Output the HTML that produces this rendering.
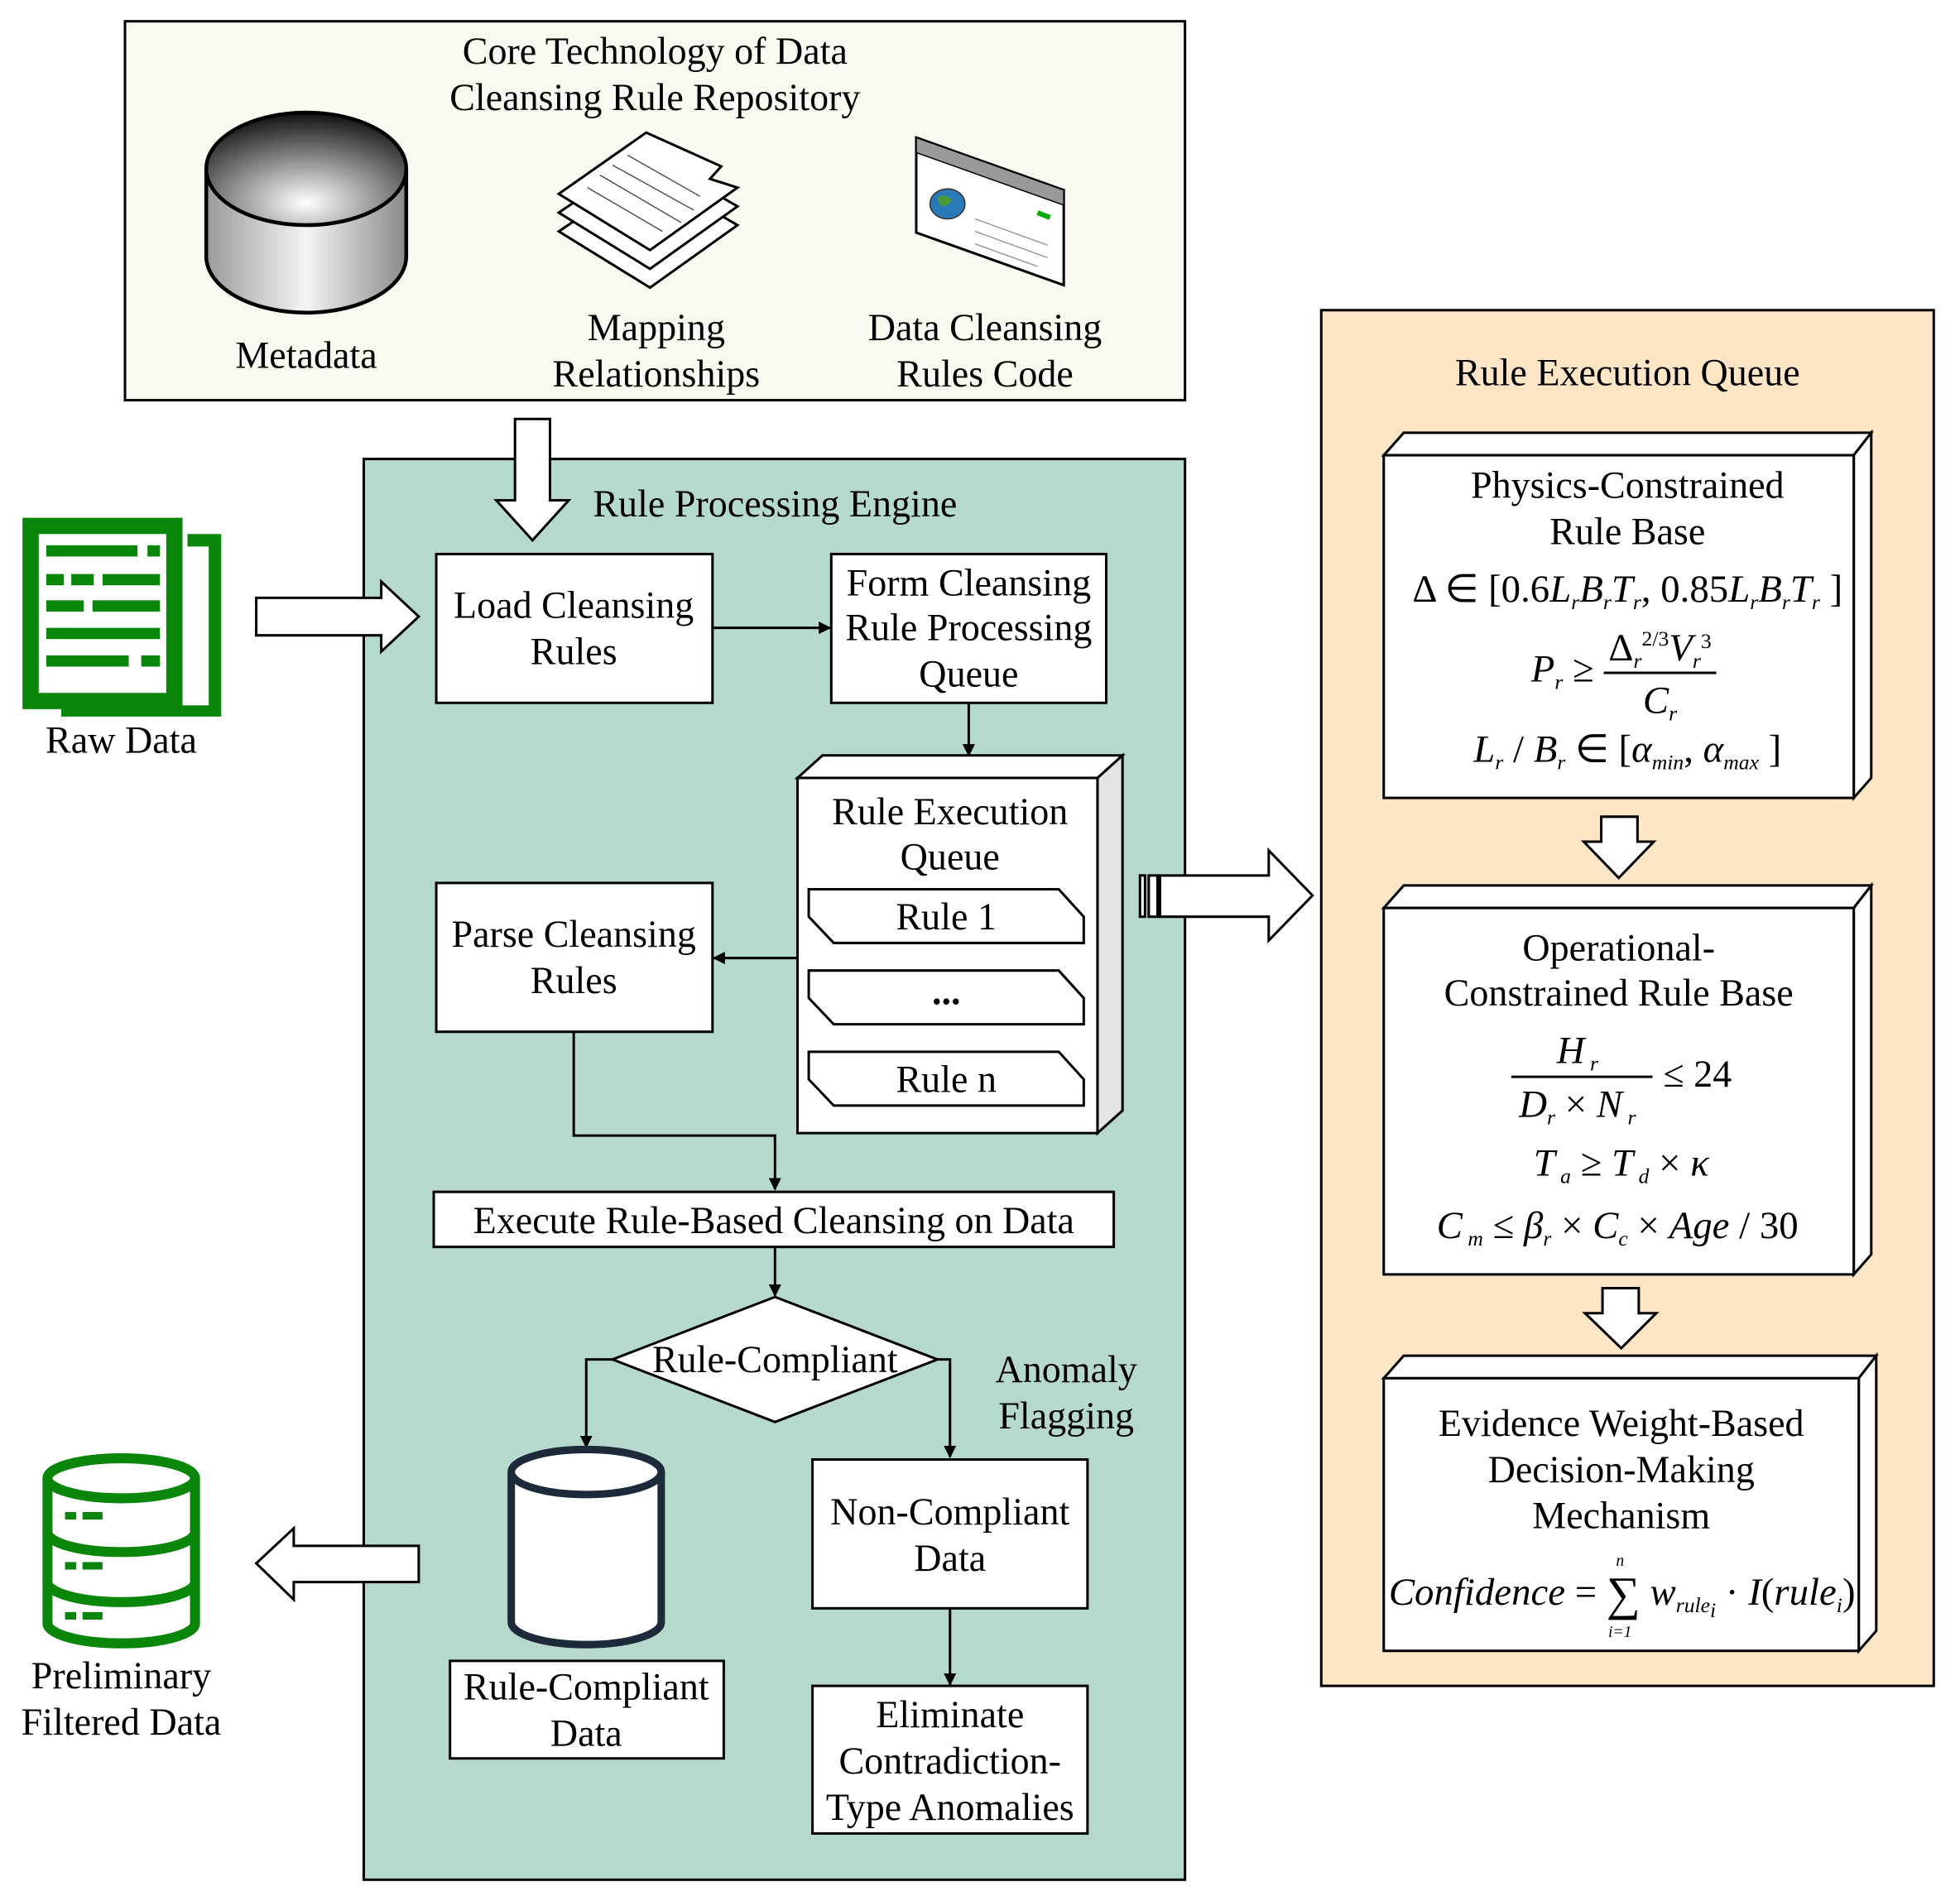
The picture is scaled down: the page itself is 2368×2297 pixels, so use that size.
<!DOCTYPE html>
<html><head><meta charset="utf-8"><style>
html,body{margin:0;padding:0;background:#fff}
svg{display:block}
.t{font-family:"Liberation Serif",serif;font-size:30.5px;text-anchor:middle;fill:#000}
.m{font-family:"Liberation Serif",serif;font-size:31px;font-style:italic;text-anchor:middle;fill:#000}
.s{font-size:17px}
.b{fill:#fff;stroke:#000;stroke-width:2}
.l{fill:none;stroke:#000;stroke-width:2}
</style></head><body>
<svg width="2368" height="2297" viewBox="0 0 1568 1520" preserveAspectRatio="none" xmlns="http://www.w3.org/2000/svg">
<defs>
<marker id="a" markerWidth="10" markerHeight="10" refX="9" refY="5" orient="auto" markerUnits="userSpaceOnUse"><path d="M0,0 L10,5 L0,10 z" fill="#000"/></marker>
<linearGradient id="cyl" x1="0" x2="1" y1="0" y2="0"><stop offset="0" stop-color="#9a9a9a"/><stop offset="0.5" stop-color="#f4f4f4"/><stop offset="1" stop-color="#8a8a8a"/></linearGradient>
<radialGradient id="ctop" cx="0.5" cy="0.8" r="0.8"><stop offset="0" stop-color="#ffffff"/><stop offset="1" stop-color="#111"/></radialGradient>
</defs>

<rect x="100" y="17" width="848" height="303" fill="#fbf8f1" stroke="#000" stroke-width="2"/>
<text class="t" x="524" y="51">Core Technology of Data</text>
<text class="t" x="524" y="88">Cleansing Rule Repository</text>
<path d="M165,135 V205 A80,45 0 0 0 325,205 V135" fill="url(#cyl)" stroke="#000" stroke-width="3"/>
<ellipse cx="245" cy="135" rx="80" ry="45" fill="url(#ctop)" stroke="#000" stroke-width="3"/>
<text class="t" x="245" y="294">Metadata</text>
<g stroke="#000" stroke-width="2" fill="#fff">
<path d="M447,185 L517,138 L590,180 L520,230 Z"/>
<path d="M447,170 L517,123 L590,165 L520,215 Z"/>
<path d="M447,155 L517,106 L577,133 L568,143 L590,150 L520,200 Z"/>
</g>
<g stroke="#555" stroke-width="1"><line x1="470" y1="150" x2="530" y2="185"/><line x1="480" y1="140" x2="545" y2="178"/><line x1="490" y1="132" x2="555" y2="168"/><line x1="502" y1="124" x2="560" y2="157"/></g>
<text class="t" x="525" y="272">Mapping</text>
<text class="t" x="525" y="309">Relationships</text>
<path d="M733,110 L851,152 L851,228 L733,186 Z" fill="#fff" stroke="#000" stroke-width="2"/>
<path d="M733,110 L851,152 L851,164 L733,122 Z" fill="#999" stroke="#000" stroke-width="1"/>
<ellipse cx="758" cy="163" rx="14" ry="12" fill="#2a7ab8" stroke="#333"/>
<path d="M750,158 q6,-4 12,2 q-4,6 -10,4 z" fill="#4a9a3a"/>
<line x1="830" y1="170" x2="840" y2="174" stroke="#0a0" stroke-width="4"/>
<g stroke="#999" stroke-width="1"><line x1="780" y1="175" x2="838" y2="196"/><line x1="780" y1="185" x2="838" y2="206"/><line x1="780" y1="195" x2="830" y2="213"/></g>
<text class="t" x="788" y="272">Data Cleansing</text>
<text class="t" x="788" y="309">Rules Code</text>

<rect x="291" y="367" width="657" height="1136" fill="#b6d9ce" stroke="#000" stroke-width="2"/>
<path d="M412,335 H440 V400 H455 L426,432 L397,400 H412 Z" class="b"/>
<text class="t" x="620" y="413">Rule Processing Engine</text>
<rect x="349" y="443" width="221" height="119" class="b"/>
<text class="t" x="459" y="494">Load Cleansing</text>
<text class="t" x="459" y="531">Rules</text>
<rect x="665" y="443" width="220" height="119" class="b"/>
<text class="t" x="775" y="476">Form Cleansing</text>
<text class="t" x="775" y="512">Rule Processing</text>
<text class="t" x="775" y="549">Queue</text>
<line x1="570" y1="502" x2="664" y2="502" class="l" marker-end="url(#a)"/>
<line x1="775" y1="562" x2="775" y2="604" class="l" marker-end="url(#a)"/>
<path d="M638,622 L658,604 L898,604 L878,622 Z" class="b"/>
<path d="M878,622 L898,604 L898,888 L878,906 Z" fill="#e4e4e4" stroke="#000" stroke-width="2"/>
<rect x="638" y="622" width="240" height="284" class="b"/>
<text class="t" x="760" y="659">Rule Execution</text>
<text class="t" x="760" y="695">Queue</text>
<path d="M647,711 L847,711 L867,733 L867,754 L667,754 L647,733 Z" class="b"/>
<text class="t" x="757" y="743">Rule 1</text>
<path d="M647,776 L847,776 L867,798 L867,819 L667,819 L647,798 Z" class="b"/>
<text class="t" x="757" y="803" style="font-weight:bold">...</text>
<path d="M647,841 L847,841 L867,863 L867,884 L667,884 L647,863 Z" class="b"/>
<text class="t" x="757" y="873">Rule n</text>
<rect x="349" y="706" width="221" height="119" class="b"/>
<text class="t" x="459" y="757">Parse Cleansing</text>
<text class="t" x="459" y="794">Rules</text>
<line x1="638" y1="766" x2="571" y2="766" class="l" marker-end="url(#a)"/>
<polyline points="459,825 459,908 620,908 620,951" class="l" marker-end="url(#a)"/>
<rect x="347" y="953" width="544" height="44" class="b"/>
<text class="t" x="619" y="986">Execute Rule-Based Cleansing on Data</text>
<line x1="620" y1="997" x2="620" y2="1036" class="l" marker-end="url(#a)"/>
<path d="M620,1037 L750,1087 L620,1137 L490,1087 Z" class="b"/>
<text class="t" x="620" y="1097">Rule-Compliant</text>
<polyline points="490,1087 469,1087 469,1157" class="l" marker-end="url(#a)"/>
<polyline points="750,1087 760,1087 760,1165" class="l" marker-end="url(#a)"/>
<text class="t" x="853" y="1105">Anomaly</text>
<text class="t" x="853" y="1142">Flagging</text>
<path d="M409,1177 V1297 A60,18 0 0 0 529,1297 V1177" fill="#fff" stroke="#1c2a3a" stroke-width="6"/>
<ellipse cx="469" cy="1177" rx="60" ry="18" fill="#fff" stroke="#1c2a3a" stroke-width="6"/>
<rect x="360" y="1328" width="219" height="78" class="b"/>
<text class="t" x="469" y="1359">Rule-Compliant</text>
<text class="t" x="469" y="1396">Data</text>
<rect x="650" y="1167" width="220" height="119" class="b"/>
<text class="t" x="760" y="1219">Non-Compliant</text>
<text class="t" x="760" y="1256">Data</text>
<line x1="760" y1="1286" x2="760" y2="1347" class="l" marker-end="url(#a)"/>
<rect x="650" y="1348" width="220" height="118" class="b"/>
<text class="t" x="760" y="1381">Eliminate</text>
<text class="t" x="760" y="1418">Contradiction-</text>
<text class="t" x="760" y="1455">Type Anomalies</text>

<g fill="#0a860a">
<path d="M18,414 H146 V567 H18 Z M31,427 V554 H133 V427 Z" fill-rule="evenodd"/>
<path d="M150,427 H177 V573 H49 V561 H61 V564 H167 V437 H150 Z"/>
<rect x="37" y="436" width="73" height="9"/><rect x="118" y="436" width="10" height="9"/>
<rect x="37" y="459" width="14" height="9"/><rect x="57" y="459" width="18" height="9"/><rect x="82" y="459" width="46" height="9"/>
<rect x="37" y="480" width="30" height="9"/><rect x="74" y="480" width="54" height="9"/>
<rect x="37" y="502" width="91" height="9"/>
<rect x="37" y="524" width="66" height="9"/><rect x="113" y="524" width="15" height="9"/>
</g>
<text class="t" x="97" y="602">Raw Data</text>
<path d="M205,478 H305 V465 L335,493 L305,521 V508 H205 Z" class="b"/>
<path d="M335,1236 H235 V1222 L205,1250 L235,1279 V1265 H335 Z" class="b"/>

<g fill="none" stroke="#0a860a" stroke-width="8">
<path d="M38,1182 V1298 A59,16 0 0 0 156,1298 V1182"/>
<ellipse cx="97" cy="1182" rx="59" ry="16"/>
<path d="M38,1225 A59,16 0 0 0 156,1225"/>
<path d="M38,1265 A59,16 0 0 0 156,1265"/>
</g>
<g fill="#0a860a"><rect x="52" y="1209" width="9" height="6"/><rect x="66" y="1209" width="16" height="6"/><rect x="52" y="1249" width="9" height="6"/><rect x="66" y="1249" width="16" height="6"/><rect x="52" y="1289" width="9" height="6"/><rect x="66" y="1289" width="16" height="6"/></g>
<text class="t" x="97" y="1350">Preliminary</text>
<text class="t" x="97" y="1387">Filtered Data</text>

<rect x="912" y="700" width="4" height="33" class="b" stroke-width="1.5"/>
<rect x="919" y="700" width="7" height="33" class="b" stroke-width="1.5"/>
<path d="M928,700 H1015 V680 L1050,716 L1015,752 V733 H928 Z" class="b"/>

<rect x="1057" y="248" width="490" height="1100" fill="#fde5c6" stroke="#000" stroke-width="2"/>
<text class="t" x="1302" y="308">Rule Execution Queue</text>
<g>
<path d="M1107,364 L1123,346 L1497,346 L1483,364 Z" class="b"/>
<path d="M1483,364 L1497,346 L1497,622 L1483,638 Z" class="b"/>
<rect x="1107" y="364" width="376" height="274" class="b"/>
<text class="t" x="1302" y="398">Physics-Constrained</text>
<text class="t" x="1302" y="435">Rule Base</text>
<text class="m" x="1302" y="481"><tspan font-style="normal">Δ ∈ [0.6</tspan>L<tspan class="s" dy="6">r</tspan><tspan dy="-6">B</tspan><tspan class="s" dy="6">r</tspan><tspan dy="-6">T</tspan><tspan class="s" dy="6">r</tspan><tspan dy="-6" font-style="normal">, 0.85</tspan>L<tspan class="s" dy="6">r</tspan><tspan dy="-6">B</tspan><tspan class="s" dy="6">r</tspan><tspan dy="-6">T</tspan><tspan class="s" dy="6">r</tspan><tspan dy="-6" font-style="normal"> ]</tspan></text>
<text class="m" x="1250" y="545">P<tspan class="s" dy="6">r</tspan><tspan dy="-6" font-style="normal"> ≥</tspan></text>
<text class="m" x="1328" y="528"><tspan font-style="normal">Δ</tspan><tspan class="s" dy="6">r</tspan><tspan class="s" dy="-18" font-style="normal">2/3</tspan><tspan dy="12">V</tspan><tspan class="s" dy="6">r</tspan><tspan class="s" dy="-16" font-style="normal">3</tspan></text>
<line x1="1283" y1="538" x2="1373" y2="538" stroke="#000" stroke-width="2"/>
<text class="m" x="1328" y="570">C<tspan class="s" dy="6">r</tspan></text>
<text class="m" x="1302" y="609">L<tspan class="s" dy="6">r</tspan><tspan dy="-6" font-style="normal"> / </tspan>B<tspan class="s" dy="6">r</tspan><tspan dy="-6" font-style="normal"> ∈ [</tspan>α<tspan class="s" dy="6">min</tspan><tspan dy="-6" font-style="normal">, </tspan>α<tspan class="s" dy="6">max</tspan><tspan dy="-6" font-style="normal"> ]</tspan></text>
</g>
<path d="M1281,653 H1310 V673 H1323 L1295,702 L1267,673 H1281 Z" class="b"/>
<g>
<path d="M1107,726 L1123,708 L1497,708 L1483,726 Z" class="b"/>
<path d="M1483,726 L1497,708 L1497,1003 L1483,1019 Z" class="b"/>
<rect x="1107" y="726" width="376" height="293" class="b"/>
<text class="t" x="1295" y="768">Operational-</text>
<text class="t" x="1295" y="804">Constrained Rule Base</text>
<text class="m" x="1262" y="850">H<tspan class="s" dy="6"> r</tspan></text>
<line x1="1209" y1="861" x2="1322" y2="861" stroke="#000" stroke-width="2"/>
<text class="t" x="1358" y="869">≤ 24</text>
<text class="m" x="1262" y="893">D<tspan class="s" dy="6">r</tspan><tspan dy="-6" font-style="normal"> × </tspan>N<tspan class="s" dy="6"> r</tspan></text>
<text class="m" x="1297" y="940">T<tspan class="s" dy="6"> a</tspan><tspan dy="-6" font-style="normal"> ≥ </tspan>T<tspan class="s" dy="6"> d</tspan><tspan dy="-6" font-style="normal"> × </tspan>κ</text>
<text class="m" x="1294" y="990">C<tspan class="s" dy="6"> m</tspan><tspan dy="-6" font-style="normal"> ≤ </tspan>β<tspan class="s" dy="6">r</tspan><tspan dy="-6" font-style="normal">  × </tspan>C<tspan class="s" dy="6">c</tspan><tspan dy="-6" font-style="normal"> × </tspan>Age<tspan font-style="normal"> / 30</tspan></text>
</g>
<path d="M1282,1030 H1311 V1050 H1325 L1297,1078 L1268,1050 H1282 Z" class="b"/>
<g>
<path d="M1107,1102 L1123,1084 L1501,1084 L1487,1102 Z" class="b"/>
<path d="M1487,1102 L1501,1084 L1501,1304 L1487,1320 Z" class="b"/>
<rect x="1107" y="1102" width="380" height="218" class="b"/>
<text class="t" x="1297" y="1148">Evidence Weight-Based</text>
<text class="t" x="1297" y="1185">Decision-Making</text>
<text class="t" x="1297" y="1222">Mechanism</text>
<text class="m" x="1111" y="1283" style="text-anchor:start">Confidence <tspan font-style="normal">= </tspan><tspan font-style="normal" font-size="38" dy="4">∑</tspan><tspan dy="-4"> w</tspan><tspan class="s" dy="6">rule</tspan><tspan class="s" font-size="11" dy="4">i</tspan><tspan dy="-10" font-style="normal"> · </tspan>I<tspan font-style="normal">(</tspan>rule<tspan class="s" dy="6">i</tspan><tspan dy="-6" font-style="normal">)</tspan></text>
<text class="m" x="1296" y="1252" style="font-size:13px">n</text>
<text class="m" x="1296" y="1309" style="font-size:13px">i=1</text>
</g>
</svg>
</body></html>
